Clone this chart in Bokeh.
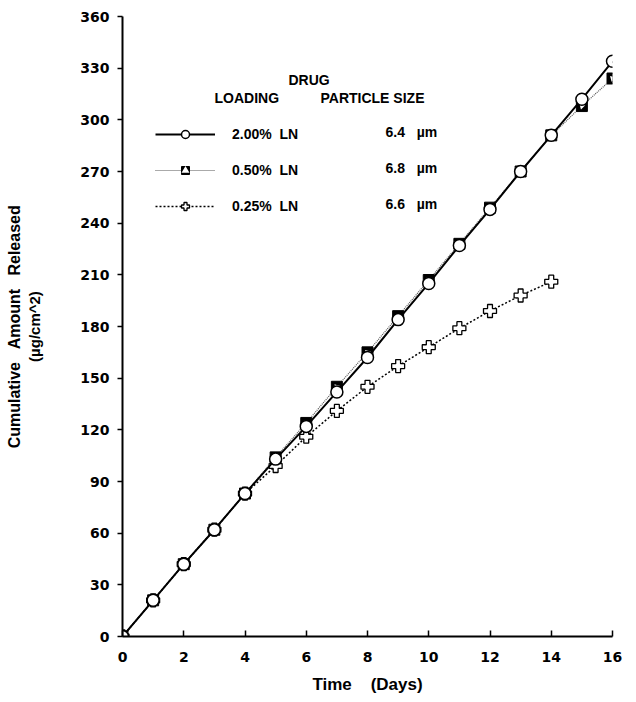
from bokeh.plotting import figure
from bokeh.models import Legend, LegendItem, Label, FixedTicker, Range1d, Title
from bokeh.embed import file_html
from bokeh.resources import INLINE

days = list(range(0, 17))
ln200 = [0, 21, 42, 62, 83, 103, 122, 142, 162, 184, 205, 227, 248, 270, 291, 312, 334]
ln050 = [0, 21, 42, 62, 83, 104, 124, 145, 165, 186, 207, 228, 249, 270, 291, 308, 324]
days025 = list(range(0, 15))
ln025 = [0, 21, 42, 62, 83, 99, 116, 131, 145, 157, 168, 179, 189, 198, 206]
x_ticks = [0, 2, 4, 6, 8, 10, 12, 14, 16]
y_ticks = [0, 30, 60, 90, 120, 150, 180, 210, 240, 270, 300, 330, 360]
S = "\u00a0"
loading_labels = ["2.00%" + S + " LN", "0.50%" + S + " LN", "0.25%" + S + " LN"]
size_labels = ["6.4" + S * 2 + " \u00b5m", "6.8" + S * 2 + " \u00b5m", "6.6" + S * 2 + " \u00b5m"]

FONT = "Liberation Sans"
TICKFONT = "DejaVu Sans"

p = figure(width=636, height=702, output_backend="svg", toolbar_location=None,
           x_range=Range1d(0, 16), y_range=Range1d(0, 360),
           min_border_left=122, min_border_right=24, min_border_top=16, min_border_bottom=66)
p.outline_line_color = None
p.grid.grid_line_color = None
p.background_fill_color = "white"
p.border_fill_color = "white"

p.xaxis.ticker = FixedTicker(ticks=x_ticks)
p.yaxis.ticker = FixedTicker(ticks=y_ticks)
for ax in (p.xaxis[0], p.yaxis[0]):
    ax.axis_line_width = 2
    ax.axis_line_color = "black"
    ax.major_tick_line_width = 1.5
    ax.minor_tick_line_color = None
    ax.major_label_text_font = TICKFONT
    ax.major_label_text_font_style = "bold"
    ax.major_label_text_font_size = "14px"
    ax.major_label_text_color = "black"
    ax.axis_label_text_font = FONT
    ax.axis_label_text_font_style = "bold"
    ax.axis_label_text_color = "black"
p.xaxis.major_tick_in = 6
p.xaxis.major_tick_out = 0
p.yaxis.major_tick_in = 0
p.yaxis.major_tick_out = 5
p.xaxis.major_label_standoff = 15
p.yaxis.major_label_standoff = 8

p.yaxis.axis_label = "(\u00b5g/cm^2)"
p.yaxis.axis_label_text_font_size = "15px"
p.yaxis.axis_label_standoff = 34

p.add_layout(Title(text="Cumulative" + S * 2 + " Amount" + S * 2 + " Released", align="center",
                   text_font=FONT, text_font_style="bold", text_font_size="16px",
                   text_color="black", standoff=2), "left")
p.add_layout(Title(text="Time" + S * 3 + " (Days)", align="center", offset=12,
                   text_font=FONT, text_font_style="bold", text_font_size="17px",
                   text_color="black", standoff=17), "below")

# 0.25%
l3 = p.line(days025, ln025, line_color="black", line_width=1.5, line_dash="2 2")
m3 = p.scatter(days025, ln025, marker="plus", size=13, fill_color="white", line_color="black", line_width=1.3)
# 0.50%
l2 = p.line(days, ln050, line_color="#555555", line_width=1.2, line_dash="1 1")
m2 = p.scatter(days, ln050, marker="square", size=11, fill_color="black", line_color="black")
m2b = p.scatter(days, ln050, marker="triangle", size=6, angle=0.785, fill_color="white", line_color=None)
# 2.00%
l1 = p.line(days, ln200, line_color="black", line_width=2)
m1 = p.scatter(days, ln200, marker="circle", size=12, fill_color="white", line_color="black", line_width=1.5)

legend = Legend(items=[
    LegendItem(label=loading_labels[0], renderers=[l1, m1]),
    LegendItem(label=loading_labels[1], renderers=[l2, m2, m2b]),
    LegendItem(label=loading_labels[2], renderers=[l3, m3]),
], location=(33, 420), glyph_width=60, glyph_height=20, spacing=16,
    label_standoff=17, label_text_font=FONT, label_text_font_style="bold",
    label_text_font_size="14px", label_text_color="black",
    background_fill_alpha=0, border_line_color=None,
    padding=5, margin=0)
p.add_layout(legend)

def lab(x, y, t):
    p.add_layout(Label(x=x, y=y, x_units="screen", y_units="screen", text=t,
                       text_font=FONT, text_font_style="bold", text_font_size="14px",
                       text_color="black", text_baseline="middle"))

lab(166, 557, "DRUG")
lab(92, 539, "LOADING")
lab(198, 539, "PARTICLE SIZE")
for i, t in enumerate(size_labels):
    lab(263, 505 - i * 36, t)

open("out.html", "w").write(file_html(p, INLINE))
